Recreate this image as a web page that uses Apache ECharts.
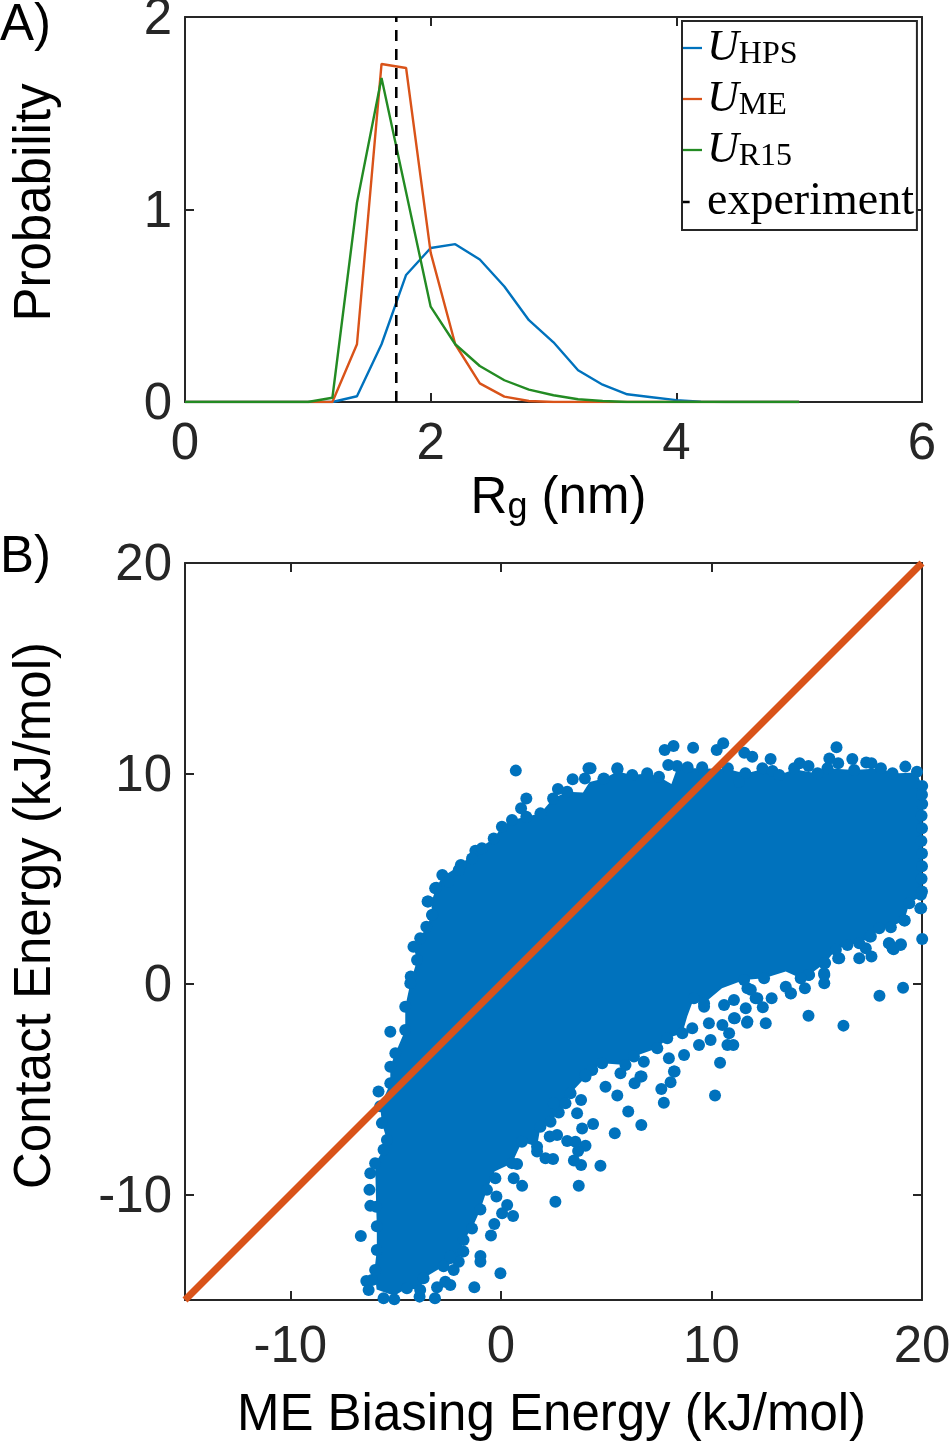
<!DOCTYPE html>
<html><head><meta charset="utf-8">
<style>html,body{margin:0;padding:0;background:#fff}#c{width:949px;height:1442px}</style>
<script src="https://cdn.jsdelivr.net/npm/echarts@6/dist/echarts.min.js"></script>
</head><body><div id="c"></div>
<script>
const rgBins = [0,0.2,0.4,0.6,0.8,1.0,1.2,1.4,1.6,1.8,2.0,2.2,2.4,2.6,2.8,3.0,3.2,3.4,3.6,3.8,4.0,4.2,4.4,4.6,4.8,5.0];
const probHPS = [0,0,0,0,0,0,0,0.03,0.30,0.66,0.80,0.82,0.74,0.60,0.425,0.31,0.165,0.09,0.04,0.025,0.01,0.002,0,0,0,0];
const probME  = [0,0,0,0,0,0,0,0.30,1.756,1.735,0.776,0.30,0.097,0.028,0.005,0,0,0,0,0,0,0,0,0,0,0];
const probR15 = [0,0,0,0,0,0,0.022,1.035,1.683,1.09,0.495,0.30,0.187,0.113,0.064,0.035,0.014,0.005,0,0,0,0,0,0,0,0];
const experimentRg = [[1.72,0],[1.72,2]];
const topXTicks = [0,2,4,6];
const topYTicks = [0,1,2];
const botTicks = [-10,0,10,20];
const identityLine = [[-15,-15],[20,20]];
// outline of the solid, overlapping mass of points
const massOutline = [
[-5.9,-14.5],[-6.0,-13.57],[-5.89,-12.62],[-5.89,-11.5],[-5.92,-10.57],[-5.97,-8.51],[-5.57,-7.87],[-5.41,-7.4],[-5.65,-6.6],[-5.73,-5.8],[-5.25,-4.71],[-5.25,-3.92],[-5.01,-3.28],[-4.54,-2.18],[-4.54,-1.07],[-4.30,0.04],[-3.98,1.15],
[-4.15,1.78],[-3.83,2.18],[-3.54,2.73],[-3.27,3.28],[-3.3,3.9],[-3.07,4.58],[-2.78,5.1],[-1.9,5.66],[-1.21,6.34],[-0.34,6.92],[0.05,7.48],[0.53,7.8],[1.21,7.95],[1.88,8.11],[2.48,8.82],[3.15,9.14],[3.9,9.1],[4.21,9.6],[4.89,9.77],[5.54,10.1],[6.24,9.93],[6.95,10.0],[7.51,9.85],[8.1,9.5],[8.35,10.2],[9.0,10.25],[9.56,10.25],[10.8,10.2],[11.61,10.0],[12.42,10.2],[13.22,9.93],[13.93,10.2],[15.04,10.0],[15.51,10.25],[16.78,10.17],[18.05,10.25],[18.6,10.0],[19.76,10.05],[20,9.4],
[20,4.2],[19.4,3.84],[19.16,3.02],[18.52,2.73],[17.97,2.65],[17.57,2.26],[17.02,1.94],[16.46,1.86],[15.91,1.63],[15.4,1.0],[14.64,0.44],[14.24,0.28],[13.53,0.6],[12.5,0.28],[11.55,0.2],[10.5,-0.2],[9.65,-0.91],[9.17,-0.67],[8.85,-1.54],[8.62,-2.33],[7.9,-2.57],[7.43,-3.05],[6.32,-3.44],[5.92,-3.84],[4.81,-3.76],[4.34,-4.08],[3.31,-5.18],[3.07,-5.66],[2.36,-6.53],[1.88,-6.77],[1.72,-7.72],[1.0,-7.48],[0.53,-8.5],[-0.3,-8.9],[-0.66,-9.77],[-0.97,-10.7],[-1.37,-11.6],[-1.77,-12.15],[-2.0,-13.18],[-2.72,-13.4],[-3.67,-13.97],[-3.83,-14.52],[-4.46,-14.44],[-5.06,-14.8]];
// individually visible points around the mass
const loosePoints = [
[-5.25,-2.26],[-5.81,-5.10],[-6.20,-8.98],[-6.24,-9.77],[-6.20,-10.53],[-6.65,-11.96],[-6.39,-14.10],[-6.28,-14.52],[-5.57,-14.92],[-5.06,-14.97],[-3.86,-14.84],[-3.13,-14.92],[-3.03,-14.40],[-2.64,-14.13],[-2.40,-14.29],[-1.26,-14.40],[-0.02,-13.73],[-0.97,-12.91],[-0.97,-13.18],[-0.47,-11.94],[-0.31,-11.39],[0.58,-11.01],[0.06,-10.88],[0.30,-10.49],[-0.21,-10.09],[0.61,-9.22],[1.01,-9.58],[-0.26,-9.22],[-1.78,-12.70],[-2.24,-13.57],[2.59,-10.33],[3.70,-9.57],[4.73,-8.62],[3.81,-8.59],[3.47,-8.38],[4.02,-7.67],[3.67,-7.92],[3.54,-7.48],[3.15,-7.45],[2.67,-7.16],[2.32,-7.24],[2.48,-8.30],[2.12,-8.27],[1.72,-7.95],[0.77,-8.54],[3.86,-6.85],[4.38,-6.64],[5.41,-7.08],[6.67,-6.69],[6.05,-6.05],[3.62,-6.13],[2.75,-6.10],[3.81,-5.50],[5.53,-5.29],[4.97,-4.87],[6.35,-4.71],[6.68,-4.39],[5.68,-4.23],[7.74,-5.63],[7.62,-4.98],[8.06,-4.66],[8.25,-4.15],[10.17,-5.29],[10.41,-3.73],[9.41,-2.89],[10.76,-2.89],[11.04,-2.89],[9.96,-2.65],[8.70,-3.36],[7.98,-3.52],[10.84,-2.33],[11.07,-1.62],[9.88,-1.86],[11.71,-1.78],[10.52,-1.94],[9.65,-1.07],[11.63,-1.15],[12.18,-0.67],
[0.71,10.14],[4.16,10.25],[3.41,9.73],[3.99,9.77],[2.71,9.27],[5.54,10.20],[4.87,9.74],[1.21,8.82],[-2.78,5.18],[-3.12,4.55],[-3.45,3.92],[-3.25,3.28],[-4.15,1.78],[-4.28,0.36],[7.78,11.12],[8.20,11.31],[9.13,11.23],[10.25,11.12],[10.56,11.44],[11.56,10.99],[11.94,10.80],[12.81,10.69],[15.94,11.25],[15.60,10.72],[16.02,10.49],[16.69,10.69],[14.19,10.49],[14.61,10.36],[17.35,10.53],[17.60,10.49],[19.21,10.33],[19.76,10.09],[20.01,9.41],[20.01,8.56],[7.95,10.41],[8.37,10.36],[8.87,10.30],[9.56,10.30],[10.78,10.25],[11.61,10.01],[20.01,2.14],[19.10,-0.17],[17.98,-0.55],[16.27,-1.97],[14.61,-1.50],[12.58,-1.86],[12.86,-0.67],[14.44,-0.20],[15.36,0.04],[13.77,-0.44],[12.44,-1.10],[11.69,-1.83],[11.11,-1.62],[18.98,1.86],[18.60,1.70],[18.43,1.94],[17.60,1.31],[17.02,1.23],[16.02,1.23],[15.36,0.99],[15.36,0.43],[14.61,0.43],[19.96,3.60],[19.18,3.02],[18.52,2.70],[17.52,2.26],
[9.65,-0.91],[10.60,-0.99],[11.07,-0.75],[9.17,-0.67],[8.22,-4.15],[9.09,-2.10],[8.62,-2.33],[7.90,-2.57],[7.43,-3.05],[6.79,-3.68],[6.32,-3.44],[6.63,-4.39],[5.92,-3.84],[4.81,-3.76],[4.34,-4.08],[4.02,-4.39],
[11.71,-0.2],[12.10,-0.67],[13.53,-0.12],[13.77,-0.43],[15.35,0.52],[15.4,1.0],[14.64,0.44],[14.24,0.28],[16.07,1.23],[17.33,1.7],[17.02,1.94],[16.46,1.86],[15.91,1.63],[17.57,2.26],[17.97,2.65],[19.16,3.02],[18.44,1.94],[18.65,1.66],[19.0,1.9],[19.92,3.6],[19.4,3.84],[19.95,4.24],[12.5,0.28],[11.55,0.2],[11.87,-0.27],
[-3.54,2.73],[-3.27,3.28],[-3.48,3.92],[-3.07,4.58],[-1.90,5.66],[-1.21,6.34],[-0.9,6.45],[-0.34,6.92],[0.05,7.48],[0.53,7.8],[1.21,7.95],[0.96,8.35],[1.88,8.11],[2.48,8.82],[3.15,9.14],[-3.83,2.18],[-2.48,4.87],[-2.0,5.42],[-1.37,5.97],
[4.26,10.25],[5.53,10.25],[4.89,9.77],[6.24,9.93],[6.95,10.01],[7.51,9.85],[12.42,10.25],[12.9,10.12],[13.93,10.25],[15.51,10.25],[18.05,10.25],[18.6,10.01],[16.78,10.17],[15.04,10.01],[13.22,9.93],[11.31,9.61],
[-5.89,-12.62],[-5.89,-11.5],[-5.92,-10.57],[-5.97,-8.51],[-5.57,-7.87],[-5.41,-7.4],[-5.65,-6.6],[-5.73,-5.8],[-5.25,-4.71],[-5.25,-3.92],[-5.01,-3.28],[-4.54,-2.18],[-4.54,-1.07],[-4.30,0.04],[-3.98,1.15],[-6.12,-14.05],[-5.97,-13.57],
[-0.66,-9.77],[-0.97,-10.7],[-1.37,-11.6],[-1.77,-12.15],[-2.0,-13.18],[-2.72,-13.4],[-3.67,-13.97],[-3.83,-14.52],[-4.46,-14.44],[-2.4,-12.94],[0.53,-8.5],[1.0,-7.48],[1.72,-7.72],[2.36,-6.53],[1.88,-6.77],[2.51,-5.66],[3.07,-5.66],[3.31,-5.18],[4.02,-4.3],
[20,9],[19.98,8],[20,7.4],[19.97,6.8],[20,6.2],[20,5.6],[19.98,5],[20,4.4]];

const FONT = 'Liberation Sans';
const INK = '#262626';
const BLUE = '#0072BD', ORANGE = '#D95319', GREEN = '#238B23';
const pair = (xs, ys) => xs.map((x, i) => [x, ys[i]]);

function axis(gridIndex, min, max, ticks, pos, labels, name, extra) {
  const horizontal = pos === 'bottom' || pos === 'top';
  const a = {
    type: 'value', gridIndex, min, max, position: pos, splitLine: { show: false },
    axisLine: { show: true, onZero: false, lineStyle: { color: INK, width: 2 } },
    axisTick: { show: true, inside: true, length: 9, customValues: ticks, lineStyle: { color: INK, width: 2 } },
    axisLabel: labels ? { show: true, customValues: ticks, color: INK, fontFamily: FONT, fontSize: 51,
                          margin: horizontal ? (gridIndex === 1 ? 22 : 17) : 13,
                          formatter: horizontal ? '{value}' : '{v|{value}}',
                          rich: horizontal ? undefined : { v: { color: INK, fontFamily: FONT, fontSize: 51, padding: [6, 0, 0, 0] } },
                          showMinLabel: true, showMaxLabel: true } : { show: false }
  };
  if (name) Object.assign(a, { name, nameLocation: 'middle' });
  return Object.assign(a, extra || {});
}
const nameStyle = pad => ({ color: '#000', fontFamily: FONT, fontSize: 51, padding: pad });
const panelStyle = { color: '#000', fontFamily: FONT, fontSize: 51, fontWeight: 'normal' };
const lineIcon = 'path://M0,0H20V2.4H0Z';
const dashIcon = 'path://M0,0H7V2.4H0Z M20,0L20,2.4Z';

const option = {
  animation: false,
  backgroundColor: '#fff',
  title: [
    { text: 'A)', left: 0, top: 0, padding: 0, textStyle: panelStyle },
    { text: 'B)', left: 0, top: 532, padding: 0, textStyle: panelStyle }
  ],
  grid: [
    { left: 185, top: 17, width: 737, height: 385, outerBoundsMode: 'none' },
    { left: 185, top: 563, width: 737, height: 737, outerBoundsMode: 'none' }
  ],
  xAxis: [
    axis(0, 0, 6, topXTicks, 'bottom', true, '{t|R}{s|g}{t| (nm)}', { nameGap: 70, nameTextStyle: { padding: [0,0,0,10], rich: {
      t: { fontFamily: FONT, fontSize: 51, color: '#000' }, s: { fontFamily: FONT, fontSize: 36, color: '#000', verticalAlign: 'bottom', padding: [18,0,0,0] } } } }),
    axis(0, 0, 6, topXTicks, 'top', false),
    axis(1, -15, 20, botTicks, 'bottom', true, 'ME Biasing Energy (kJ/mol)', { nameGap: 90, nameTextStyle: nameStyle([0,4,0,0]) }),
    axis(1, -15, 20, botTicks, 'top', false)
  ],
  yAxis: [
    axis(0, 0, 2, topYTicks, 'left', true, 'Probability', { nameGap: 124, nameTextStyle: nameStyle([0,0,0,14]) }),
    axis(0, 0, 2, topYTicks, 'right', false),
    axis(1, -15, 20, botTicks, 'left', true, 'Contact Energy (kJ/mol)', { nameGap: 124, nameTextStyle: nameStyle([0,0,0,32]) }),
    axis(1, -15, 20, botTicks, 'right', false)
  ],
  legend: {
    orient: 'vertical', left: 682, top: 21, padding: [5, 3, 5, 1], itemGap: 6, itemWidth: 19, itemHeight: 2.4,
    backgroundColor: '#fff', borderColor: INK, borderWidth: 2, selectedMode: false,
    data: [
      { name: 'UHPS', icon: lineIcon }, { name: 'UME', icon: lineIcon }, { name: 'UR15', icon: lineIcon },
      { name: 'experiment', icon: dashIcon }
    ],
    formatter: n => n === 'experiment' ? '{e|experiment}' : '{u|U}{s|' + n.slice(1) + '}',
    textStyle: { rich: {
      u: { fontFamily: 'Liberation Serif', fontStyle: 'italic', fontSize: 44, color: '#000', height: 46 },
      s: { fontFamily: 'Liberation Serif', fontSize: 32, color: '#000', verticalAlign: 'bottom', padding: [14,0,0,0] },
      e: { fontFamily: 'Liberation Serif', fontSize: 46, color: '#000', height: 46 }
    } }
  },
  series: [
    { name: 'UHPS', type: 'line', symbol: 'none', xAxisIndex: 0, yAxisIndex: 0, data: pair(rgBins, probHPS), lineStyle: { color: BLUE, width: 2.4 }, itemStyle: { color: BLUE } },
    { name: 'UME', type: 'line', symbol: 'none', xAxisIndex: 0, yAxisIndex: 0, data: pair(rgBins, probME), lineStyle: { color: ORANGE, width: 2.4 }, itemStyle: { color: ORANGE } },
    { name: 'UR15', type: 'line', symbol: 'none', xAxisIndex: 0, yAxisIndex: 0, data: pair(rgBins, probR15), lineStyle: { color: GREEN, width: 2.4 }, itemStyle: { color: GREEN } },
    { name: 'experiment', type: 'line', symbol: 'none', xAxisIndex: 0, yAxisIndex: 0, data: experimentRg, lineStyle: { color: '#000', width: 2.6, type: [11, 8] }, itemStyle: { color: '#000' } },
    { name: 'mass', type: 'custom', xAxisIndex: 2, yAxisIndex: 2, data: massOutline, z: 2, clip: false,
      renderItem: (params, api) => params.dataIndex !== 0 ? null : ({
        type: 'polygon', shape: { points: massOutline.map(p => api.coord(p)) }, style: { fill: BLUE }
      }) },
    { name: 'points', type: 'scatter', xAxisIndex: 2, yAxisIndex: 2, data: loosePoints, symbolSize: 12, itemStyle: { color: BLUE, opacity: 1 }, clip: false, z: 3 },
    { name: 'identity', type: 'line', symbol: 'none', xAxisIndex: 2, yAxisIndex: 2, data: identityLine, lineStyle: { color: ORANGE, width: 7 }, z: 4 }
  ]
};
echarts.init(document.getElementById('c'), null, { renderer: 'canvas' }).setOption(option);
</script></body></html>
